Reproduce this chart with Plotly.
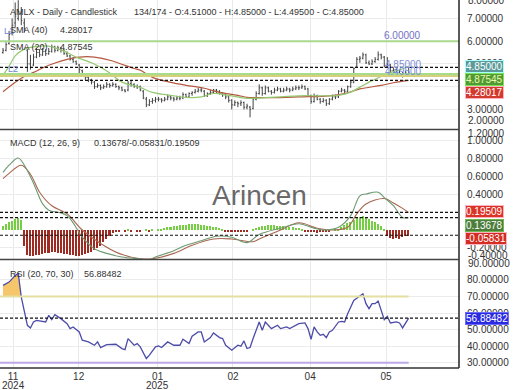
import numpy as np
import plotly.graph_objects as go
from plotly.subplots import make_subplots

FONT = "Liberation Sans, Arial, sans-serif"

# ---------------- data ----------------
opens = [5.50, 5.60, 5.90, 6.35, 6.80, 7.00, 7.20, 6.80, 5.60, 5.00,
         4.95, 5.30, 5.50, 5.40, 5.55, 5.45, 5.55, 5.75, 5.60, 5.70,
         5.60, 5.45, 5.35, 5.20, 5.10, 4.95, 4.70, 4.55, 4.40, 4.30,
         4.20, 4.00, 4.05, 3.95, 4.00, 4.10, 4.05, 4.10, 4.00, 3.95,
         3.85, 3.85, 4.15, 4.10, 4.00, 4.00, 3.80, 3.45, 3.20, 3.35,
         3.40, 3.45, 3.45, 3.40, 3.45, 3.55, 3.50, 3.45, 3.50, 3.50,
         3.65, 3.55, 3.70, 3.75, 3.80, 3.85, 3.80, 3.60, 3.70, 3.75,
         3.85, 3.80, 3.70, 3.65, 3.55, 3.40, 3.20, 3.30, 3.25, 3.30,
         3.10, 3.10, 3.05, 3.45, 3.70, 3.95, 3.70, 3.95, 3.80, 3.75,
         3.85, 3.90, 3.80, 3.85, 3.90, 3.85, 3.90, 3.95, 3.95, 4.00,
         3.90, 3.60, 3.35, 3.60, 3.45, 3.35, 3.40, 3.25, 3.45, 3.55,
         3.55, 3.80, 3.85, 3.80, 4.00, 4.20, 4.90, 5.20, 5.25, 5.40,
         5.05, 5.00, 5.10, 5.20, 5.40, 5.30, 4.90, 4.95, 4.70, 4.75,
         4.70, 4.55, 4.50, 4.51]
highs = [5.70, 5.95, 6.45, 7.00, 7.70, 7.80, 7.50, 7.00, 5.65, 5.40,
         5.45, 5.70, 5.65, 5.70, 5.65, 5.70, 5.85, 5.80, 5.80, 5.75,
         5.65, 5.55, 5.40, 5.30, 5.15, 5.00, 4.75, 4.60, 4.50, 4.35,
         4.25, 4.15, 4.10, 4.10, 4.20, 4.15, 4.20, 4.15, 4.05, 4.00,
         3.90, 4.25, 4.25, 4.15, 4.10, 4.05, 3.85, 3.55, 3.45, 3.50,
         3.55, 3.55, 3.50, 3.55, 3.65, 3.60, 3.55, 3.60, 3.60, 3.75,
         3.70, 3.75, 3.80, 3.90, 3.95, 3.95, 3.85, 3.75, 3.85, 3.90,
         3.90, 3.85, 3.75, 3.70, 3.60, 3.45, 3.40, 3.35, 3.40, 3.35,
         3.25, 3.15, 3.55, 3.80, 4.10, 4.00, 4.05, 4.00, 3.85, 3.95,
         4.00, 3.95, 3.95, 4.00, 3.95, 4.00, 4.05, 4.05, 4.10, 4.05,
         3.95, 3.65, 3.70, 3.65, 3.50, 3.50, 3.45, 3.50, 3.65, 3.65,
         3.85, 3.95, 3.90, 4.05, 4.30, 4.85, 5.30, 5.35, 5.50, 5.45,
         5.15, 5.20, 5.30, 5.55, 5.45, 5.35, 5.30, 5.00, 4.85, 4.80,
         4.75, 4.65, 4.70, 4.85]
lows = [5.45, 5.55, 5.85, 6.25, 6.60, 6.90, 6.70, 6.40, 4.65, 4.75,
        4.90, 5.25, 5.30, 5.35, 5.35, 5.40, 5.50, 5.50, 5.55, 5.50,
        5.40, 5.30, 5.15, 5.05, 4.95, 4.60, 4.45, 4.30, 4.20, 4.10,
        3.90, 3.95, 3.85, 3.90, 3.95, 3.95, 4.00, 3.95, 3.85, 3.80,
        3.75, 3.80, 4.00, 3.95, 3.90, 3.80, 3.45, 3.10, 3.15, 3.25,
        3.30, 3.35, 3.30, 3.35, 3.40, 3.40, 3.35, 3.40, 3.40, 3.45,
        3.50, 3.50, 3.60, 3.70, 3.75, 3.75, 3.55, 3.55, 3.65, 3.70,
        3.70, 3.65, 3.55, 3.45, 3.30, 3.00, 3.15, 3.10, 3.15, 3.00,
        3.00, 2.65, 3.00, 3.40, 3.65, 3.60, 3.65, 3.75, 3.65, 3.70,
        3.80, 3.75, 3.75, 3.80, 3.75, 3.80, 3.85, 3.85, 3.90, 3.85,
        3.55, 3.25, 3.30, 3.40, 3.25, 3.30, 3.15, 3.20, 3.40, 3.45,
        3.50, 3.75, 3.70, 3.75, 3.95, 4.15, 4.85, 5.05, 5.20, 5.00,
        4.95, 4.95, 5.05, 5.15, 5.20, 4.85, 4.85, 4.60, 4.60, 4.60,
        4.45, 4.40, 4.45, 4.495]
closes = [5.60, 5.85, 6.30, 6.70, 7.10, 7.30, 6.90, 6.55, 5.00, 4.85,
          5.30, 5.50, 5.40, 5.55, 5.45, 5.55, 5.75, 5.60, 5.70, 5.60,
          5.45, 5.35, 5.20, 5.10, 5.00, 4.75, 4.55, 4.40, 4.30, 4.20,
          4.00, 4.05, 3.95, 4.00, 4.10, 4.05, 4.10, 4.00, 3.95, 3.85,
          3.80, 4.15, 4.10, 4.00, 4.00, 3.85, 3.50, 3.20, 3.35, 3.40,
          3.45, 3.45, 3.40, 3.45, 3.55, 3.50, 3.45, 3.50, 3.50, 3.65,
          3.55, 3.70, 3.75, 3.80, 3.85, 3.85, 3.60, 3.70, 3.75, 3.85,
          3.80, 3.70, 3.65, 3.55, 3.40, 3.20, 3.30, 3.25, 3.30, 3.10,
          3.15, 3.00, 3.45, 3.70, 3.95, 3.70, 3.95, 3.80, 3.75, 3.85,
          3.90, 3.80, 3.85, 3.90, 3.85, 3.90, 3.95, 3.95, 4.00, 3.90,
          3.60, 3.35, 3.60, 3.45, 3.35, 3.40, 3.25, 3.45, 3.55, 3.55,
          3.80, 3.85, 3.80, 4.00, 4.20, 4.80, 5.20, 5.25, 5.40, 5.05,
          5.00, 5.10, 5.20, 5.40, 5.30, 4.90, 4.95, 4.70, 4.75, 4.70,
          4.55, 4.50, 4.60, 4.85]
bars = list(range(len(closes)))

sma20_idx = [0, 2, 4, 7, 10, 15, 21, 24, 29, 32, 35, 39, 45, 49, 55, 60, 65, 69,
             74, 80, 84, 91, 97, 104, 110, 114, 117, 120, 124, 126, 129, 133]
sma20_val = [4.50, 4.90, 5.35, 5.65, 5.75, 5.78, 5.50, 5.30, 5.05, 4.85, 4.60, 4.20,
             3.97, 3.75, 3.62, 3.53, 3.55, 3.70, 3.62, 3.49, 3.50, 3.55, 3.60, 3.60,
             3.62, 3.76, 3.98, 4.20, 4.45, 4.58, 4.70, 4.87545]
sma40_idx = [0, 6, 10, 15, 21, 25, 30, 35, 38, 43, 45, 49, 55, 60, 66, 71, 77, 80,
             84, 91, 97, 107, 112, 117, 124, 129, 133]
sma40_val = [3.78, 4.37, 4.63, 4.94, 5.20, 5.30, 5.30, 5.16, 5.03, 4.80, 4.72, 4.41,
             4.19, 4.06, 3.93, 3.75, 3.62, 3.53, 3.52, 3.52, 3.55, 3.60, 3.70, 3.90,
             4.06, 4.20, 4.28017]

macd_idx = [0, 2, 5, 7, 10, 13, 15, 19, 21, 23, 26, 30, 34, 39, 45, 48, 50, 56, 60,
            65, 70, 75, 80, 84, 91, 97, 102, 106, 110, 114, 117, 119, 123, 125, 128,
            131, 133]
macd_val = [0.64, 0.72, 0.80, 0.72, 0.52, 0.29, 0.22, 0.19, 0.16, 0.08, -0.08, -0.21,
            -0.26, -0.30, -0.32, -0.33, -0.30, -0.23, -0.17, -0.12, -0.07, -0.08,
            -0.14, -0.05, 0.02, 0.07, 0.02, 0.00, 0.03, 0.16, 0.38, 0.40, 0.42, 0.36,
            0.27, 0.14, 0.13678]
signal_idx = [0, 2, 6, 9, 12, 16, 21, 26, 32, 38, 45, 49, 56, 62, 69, 75, 82, 84, 91,
              97, 103, 108, 113, 116, 119, 125, 128, 131, 133]
signal_val = [0.57, 0.63, 0.72, 0.62, 0.42, 0.27, 0.18, 0.00, -0.15, -0.26, -0.32,
              -0.32, -0.26, -0.17, -0.10, -0.10, -0.13, -0.10, 0.00, 0.08, 0.02, 0.00,
              0.03, 0.18, 0.29, 0.35, 0.30, 0.24, 0.19509]
hist_vals = [0.05, 0.07, 0.09, 0.11, 0.13, 0.14, 0.12,
             -0.17,
             -0.27, -0.28, -0.28, -0.27, -0.27, -0.26, -0.25, -0.25, -0.24, -0.24,
             -0.25, -0.25, -0.26, -0.26, -0.27, -0.27, -0.28, -0.28, -0.27, -0.26, -0.25,
             -0.24, -0.22, -0.20, -0.17, -0.13, -0.10, -0.06, -0.03,
             -0.01, -0.01, 0.00, -0.01, 0.01, -0.01, 0.00, -0.01, -0.01, 0.00, 0.01,
             -0.01, 0.01, 0.00, 0.01,
             0.02, 0.03, 0.04, 0.04, 0.05, 0.05, 0.06, 0.06, 0.06, 0.07, 0.07, 0.07,
             0.07, 0.06, 0.06, 0.05, 0.05, 0.04, 0.04, 0.03, 0.02,
             -0.01, -0.02, -0.02, -0.01, -0.02, -0.02, -0.01, -0.01, 0.00,
             0.02, 0.03, 0.04, 0.05, 0.05, 0.06, 0.06, 0.06, 0.05, 0.05, 0.05, 0.04,
             0.04, 0.04, 0.03, 0.03, 0.02,
             -0.01, -0.01, -0.02, -0.02, -0.03, -0.02, -0.02, -0.01, -0.01, 0.00, 0.01,
             0.02, 0.04, 0.06, 0.08, 0.10, 0.12, 0.14, 0.15, 0.16, 0.15, 0.13, 0.11,
             0.09, 0.07, 0.05, 0.02,
             -0.06, -0.08, -0.09, -0.08, -0.09, -0.07, -0.06, -0.05831]

rsi_idx = [0, 2, 4, 5, 6, 7, 8, 9, 10, 11, 14, 15, 16, 17, 19, 21, 22, 23, 25, 26,
           28, 30, 31, 32, 33, 34, 37, 39, 40, 41, 43, 44, 45, 46, 47, 48, 50, 51,
           52, 54, 56, 58, 59, 61, 62, 64, 65, 66, 68, 69, 71, 72, 73, 75, 77, 78,
           79, 80, 81, 82, 84, 85, 86, 88, 90, 91, 93, 94, 96, 97, 99, 100, 101,
           102, 103, 104, 105, 106, 107, 108, 110, 111, 112, 113, 115, 117, 118,
           119, 120, 121, 122, 123, 125, 126, 127, 129, 130, 131, 132, 133]
rsi_val = [76.6, 78.6, 82.6, 83.8, 69.6, 61.6, 52.6, 51.0, 54.6, 55.6, 54.6, 58.6,
           56.0, 59.0, 56.6, 53.6, 50.6, 51.6, 48.6, 43.6, 42.6, 40.6, 42.6, 39.2,
           40.0, 41.0, 41.2, 38.6, 38.0, 44.6, 40.6, 41.6, 39.6, 35.6, 32.6, 34.6,
           39.6, 40.2, 39.2, 42.6, 40.6, 40.6, 44.2, 41.6, 46.0, 48.6, 48.6, 42.6,
           45.2, 48.0, 45.2, 44.6, 40.6, 37.6, 40.6, 40.0, 43.2, 38.6, 39.2, 44.6,
           54.6, 49.6, 54.6, 50.6, 52.6, 50.6, 51.6, 50.6, 52.6, 53.6, 54.0, 50.6,
           44.2, 51.6, 48.6, 46.6, 47.2, 45.2, 48.6, 49.6, 54.6, 55.0, 54.6, 59.6,
           67.6, 70.0, 71.6, 65.6, 62.6, 65.6, 65.6, 67.2, 56.0, 58.0, 54.0, 54.6,
           54.0, 51.0, 54.0, 56.88482]

tick_pos = [3.3, 24.8, 50.7, 75.4, 100.7, 125.6]
tick_text = ["11", "12", "01", "02", "04", "05"]
year_pos = [3.3, 50.7]
year_text = ["2024", "2025"]

price_ticks = [3, 4, 5, 6, 7]
macd_ticks = [-0.2, 0.4, 0.6, 0.8, 1.0]
rsi_ticks = [30, 40, 50, 60, 70, 80]

last_close = 4.85
sma20_last = 4.87545
sma40_last = 4.28017
level_line = 6.0

# ---------------- geometry helpers ----------------
H_PLOT = 368.0
W_PLOT = 459.0


def py(p):
    return 1 - p / H_PLOT


def px(p):
    return p / W_PLOT


fig = make_subplots(rows=3, cols=1, shared_xaxes=True)

fig.add_trace(go.Ohlc(x=bars, open=opens, high=highs, low=lows, close=closes,
                      increasing_line_color="#444444", decreasing_line_color="#444444",
                      line_width=1, tickwidth=0.35, hoverinfo="skip"), row=1, col=1)
fig.add_trace(go.Scatter(x=sma40_idx, y=sma40_val, mode="lines",
                         line=dict(color="#b4573f", width=1.2, shape="spline")), row=1, col=1)
fig.add_trace(go.Scatter(x=sma20_idx, y=sma20_val, mode="lines",
                         line=dict(color="#93c96f", width=1.2, shape="spline")), row=1, col=1)

hist_colors = ["#76cf43" if v >= 0 else "#9e2b22" for v in hist_vals]
fig.add_trace(go.Bar(x=bars, y=hist_vals, marker_color=hist_colors, marker_line_width=0,
                     width=0.5), row=2, col=1)
fig.add_trace(go.Scatter(x=signal_idx, y=signal_val, mode="lines",
                         line=dict(color="#a8664e", width=1.1, shape="spline")), row=2, col=1)
fig.add_trace(go.Scatter(x=macd_idx, y=macd_val, mode="lines",
                         line=dict(color="#6e9a72", width=1.1, shape="spline")), row=2, col=1)

# overbought fill only over the opening stretch where the RSI sits above 70
n_fill = 5
fill_x = rsi_idx[:n_fill]
fig.add_trace(go.Scatter(x=fill_x, y=[70] * n_fill, mode="lines",
                         line=dict(width=0, color="rgba(0,0,0,0)")), row=3, col=1)
fig.add_trace(go.Scatter(x=fill_x, y=np.maximum(np.array(rsi_val[:n_fill]), 70),
                         mode="lines", line=dict(width=0, color="rgba(0,0,0,0)"),
                         fill="tonexty", fillcolor="#f6c66a"), row=3, col=1)
fig.add_trace(go.Scatter(x=rsi_idx, y=rsi_val, mode="lines",
                         line=dict(color="#4c4ca8", width=1.3)), row=3, col=1)

xr = [-0.98, 149.5]
common_x = dict(range=xr, tickvals=tick_pos, ticktext=tick_text, showgrid=True,
                gridcolor="#e9e9e9", gridwidth=1, zeroline=False, showline=False,
                rangeslider=dict(visible=False), fixedrange=True)
fig.update_layout(
    xaxis=dict(common_x, domain=[0, 1], showticklabels=False),
    xaxis2=dict(common_x, domain=[0, 1], showticklabels=False),
    xaxis3=dict(common_x, domain=[0, 1], showticklabels=True,
                tickfont=dict(size=10, color="#333", family=FONT), ticks="",
                ticklabelstandoff=1),
)

yax = dict(side="right", showgrid=True, gridcolor="#ececec", zeroline=False,
           ticks="outside", ticklen=5, tickcolor="rgba(0,0,0,0)",
           tickfont=dict(size=10, color="#333", family=FONT), showline=False)
fig.update_layout(
    yaxis=dict(yax, domain=[py(129.5), 1], range=[2.118, 7.809], tickvals=price_ticks,
               ticktext=[f"{v:.5f}" for v in price_ticks]),
    yaxis2=dict(yax, domain=[py(259.5), py(130.5)], range=[-0.328, 1.106],
                tickvals=macd_ticks, ticktext=[f"{v:.5f}" for v in macd_ticks]),
    yaxis3=dict(yax, domain=[0, py(260.5)], range=[26.9, 91.6], tickvals=rsi_ticks,
                ticktext=[f"{v:.5f}" for v in rsi_ticks]),
)

shapes = []
# price panel levels
shapes.append(dict(type="line", xref="paper", yref="y", x0=0, x1=1, y0=level_line,
                   y1=level_line, line=dict(color="#a9d98c", width=2)))
shapes.append(dict(type="line", xref="paper", yref="y", x0=0, x1=1, y0=4.56, y1=4.56,
                   line=dict(color="#a6dc8a", width=2)))
shapes.append(dict(type="line", xref="paper", yref="y", x0=0, x1=1, y0=4.47, y1=4.47,
                   line=dict(color="#d6cf7c", width=2)))
for lv in [last_close, sma40_last]:
    shapes.append(dict(type="line", xref="paper", yref="y", x0=0, x1=1, y0=lv, y1=lv,
                       line=dict(color="#111", width=1.2, dash="3px,2px")))
# macd levels
for lv in [0.19509, 0.13678, -0.05831]:
    shapes.append(dict(type="line", xref="paper", yref="y2", x0=0, x1=1, y0=lv, y1=lv,
                       line=dict(color="#111", width=1.2, dash="3px,2px")))
# rsi levels
shapes.append(dict(type="line", xref="x3", yref="y3", x0=xr[0], x1=133, y0=70, y1=70,
                   line=dict(color="#e4e0a2", width=2)))
shapes.append(dict(type="line", xref="x3", yref="y3", x0=xr[0], x1=133, y0=30, y1=30,
                   line=dict(color="#bba9e8", width=2)))
shapes.append(dict(type="line", xref="paper", yref="y3", x0=0, x1=1, y0=56.88482,
                   y1=56.88482, line=dict(color="#111", width=1.2, dash="3px,2px")))
# frame
shapes.append(dict(type="line", xref="paper", yref="paper", x0=1, x1=1, y0=0, y1=1,
                   line=dict(color="#222", width=1.5)))
for p in [129.5, 259.5]:
    shapes.append(dict(type="line", xref="paper", yref="paper", x0=0, x1=1, y0=py(p),
                       y1=py(p), line=dict(color="#444", width=1.5)))
shapes.append(dict(type="line", xref="paper", yref="paper", x0=0, x1=1, y0=0, y1=0,
                   line=dict(color="#333", width=1.5)))
fig.update_layout(shapes=shapes)

ann = []


def text(x, y, s, size=9, color="#333", anchor="left", **kw):
    ann.append(dict(x=px(x), y=py(y), xref="paper", yref="paper", text=s, showarrow=False,
                    xanchor=anchor, yanchor="middle",
                    font=dict(size=size, color=color, family=FONT), **kw))


text(8, 12.5, "AMLX - Daily - Candlestick")
text(132, 12.5, "134/174 - O:4.51000 - H:4.85000 - L:4.49500 - C:4.85000")
text(8, 30, "SMA (40)")
text(58, 30, "4.28017")
text(8, 47, "SMA (20)")
text(58, 47, "4.87545")
text(2, 31, "L1", size=9, color="#6f86d6")
text(6, 69, "L2", size=9, color="#6f86d6")
text(402, 35, "6.00000", size=10, color="#7272c4", anchor="center")
text(403, 64.5, "4.85000", size=10, color="#7f8fd8", anchor="center")
text(403, 71, "4.49500", size=10, color="#7f8fd8", anchor="center")
text(8, 143, "MACD (12, 26, 9)")
text(92, 143, "0.13678/-0.05831/0.19509")
text(8, 274, "RSI (20, 70, 30)")
text(82, 274, "56.88482")

# year line under the month ticks
for yp, yt in zip(year_pos, year_text):
    ann.append(dict(x=yp, y=py(385.5), xref="x3", yref="paper", text=yt, showarrow=False,
                    xanchor="center", yanchor="middle",
                    font=dict(size=10, color="#333", family=FONT)))

# clamped axis labels
text(466, 0.5, "8.00000", size=10)
text(466, 120, "2.00000", size=10)
text(466, 133, "1.20000", size=10)
text(466, 255, "-0.40000", size=10)
text(466, 263, "90.00000", size=10)


def box(y, s, bg, border, fc="#ffffff"):
    ann.append(dict(x=px(465), y=py(y), xref="paper", yref="paper", text=s,
                    showarrow=False, xanchor="left", yanchor="middle",
                    font=dict(size=10, color=fc, family=FONT), bgcolor=bg,
                    bordercolor=border, borderwidth=1, borderpad=0))


box(66.5, "4.85000", "#5b9a9a", "#a8ffff")
box(79, "4.87545", "#4f9a33", "#7de35a", fc="#eaf7b0")
box(92, "4.28017", "#d23a2e", "#ffb3c0")
box(211, "0.19509", "#dc3328", "#ffb3c0")
box(225.5, "0.13678", "#4d7d3c", "#6fb84f")
box(238, "-0.05831", "#d42d22", "#ffb3c0")
box(318, "56.88482", "#2a2ae0", "#6a6aff")

ann.append(dict(x=px(259), y=py(195), xref="paper", yref="paper", text="Arincen",
                showarrow=False, xanchor="center", yanchor="middle",
                font=dict(size=28, color="rgba(85,85,85,0.9)", family=FONT)))

fig.update_layout(annotations=ann, width=520, height=390,
                  margin=dict(l=0, r=61, t=0, b=22), showlegend=False,
                  paper_bgcolor="white", plot_bgcolor="white", bargap=0,
                  font=dict(family=FONT, size=10, color="#333"))

fig.write_html("out.html", config={"displayModeBar": False},
               post_script="document.body.style.margin='0px';"
                           "document.body.style.overflow='hidden';")
